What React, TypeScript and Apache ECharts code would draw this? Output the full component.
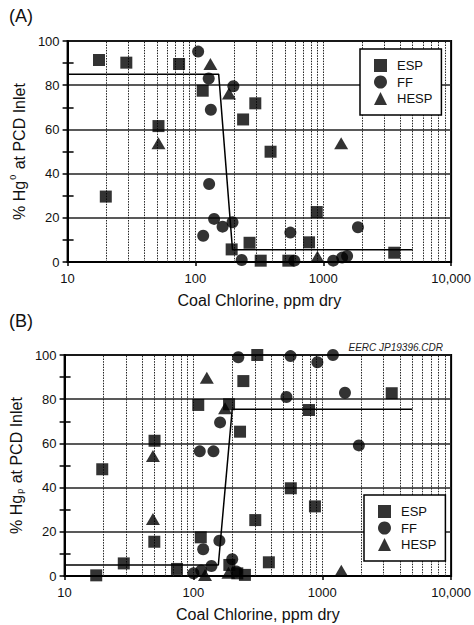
import React, { useEffect, useRef } from "react";
import * as echarts from "echarts";

// Panel A: % Hg0 at PCD inlet
const A_ESP: number[][] = [[17.6,91.4],[28.8,90.2],[74.5,89.6],[114,77.5],[51.4,61.5],[236,64.5],[294,71.8],[387,49.9],[19.9,29.6],[192,5.7],[265,8.7],[324,0.6],[533,0.6],[774,8.9],[889,22.6],[3590,4.2]];
const A_FF: number[][] = [[105,95.2],[127,83],[198,79.5],[132,68.9],[128,35.3],[140,19.5],[163,16],[195,18],[115,11.9],[230,0.9],[553,13.3],[594,0.6],[1196,0.6],[1405,2],[1536,2.7],[1867,15.7]];
const A_HESP: number[][] = [[131,89.6],[183,76.3],[51.4,53.7],[1380,53.7],[900,2.4]];
const A_FIT: number[][] = [[10,85],[152,85],[195,5.5],[5000,5.5]];

// Panel B: % Hgp at PCD inlet
const B_ESP: number[][] = [[313,100],[244,88.2],[109,77.4],[189,77.7],[789,75.1],[3460,82.7],[230,65.3],[49.9,61.2],[19.6,48.3],[570,39.7],[877,31.5],[302,25.3],[49.7,15.5],[114,17.5],[28.8,5.7],[17.6,0.3],[74.5,3.2],[385,6.2],[219,1.2],[251,0.5],[190,5]];
const B_FF: number[][] = [[223,99],[567,99.5],[1210,100],[916,96.7],[527,81],[1500,82.9],[161,69.5],[112,56.4],[143,56.4],[1923,59.1],[159,16],[119,12.1],[200,7.6],[138,4.5],[100,1.2],[115,2.5],[216,2]];
const B_HESP: number[][] = [[127,89.7],[176,75.9],[48.5,54.3],[48.5,25.8],[123,0.5],[187,1.5],[1405,2.4]];
const B_FIT: number[][] = [[10,5],[156,5],[200,75.5],[5000,75.5]];

const X_MIN = 10;
const X_MAX = 10000;
const Y_TICKS_INTERVAL = 20;
const LOG_GRID_VALUES: number[] = [20,30,40,50,60,70,80,90,100,200,300,400,500,600,700,800,900,1000,2000,3000,4000,5000,6000,7000,8000,9000];
const LEGEND_NAMES = ["ESP", "FF", "HESP"];

const FONT = "Liberation Sans, Arial, Helvetica, sans-serif";

export default function App() {
  const ref = useRef<HTMLDivElement>(null);
  useEffect(() => {
    if (!ref.current) return;
    const chart = echarts.init(ref.current, undefined, { renderer: "svg" });

    const grids = [
      { left: 64, top: 41, width: 388, height: 221 },
      { left: 64, top: 355, width: 388, height: 221 },
    ];
    const xAxes: any[] = [];
    const yAxes: any[] = [];
    const names = ["% Hg{sup|0} at PCD Inlet", "% Hg{sub|p} at PCD Inlet"];
    [0, 1].forEach((g) => {
      xAxes.push({
        type: "log",
        logBase: 10,
        gridIndex: g,
        min: X_MIN,
        max: X_MAX,
        name: "Coal Chlorine, ppm dry",
        nameLocation: "middle",
        nameGap: 30,
        nameTextStyle: { fontFamily: FONT, fontSize: 16, color: "#111" },
        axisLine: { show: true, lineStyle: { color: "#000", width: 2 } },
        axisTick: { show: true, length: 4, lineStyle: { color: "#000", width: 1.5 } },
        axisLabel: {
          fontFamily: FONT, fontSize: 13, color: "#111", margin: 10,
          formatter: (v: number) => (v === 10000 ? "10,000" : String(v)),
        },
        splitLine: { show: false },
      });
      yAxes.push({
        type: "value",
        gridIndex: g,
        min: 0,
        max: 100,
        interval: Y_TICKS_INTERVAL,
        name: names[g],
        nameLocation: "middle",
        nameGap: 36,
        nameTextStyle: {
          fontFamily: FONT, fontSize: 16, color: "#111",
          rich: {
            sup: { fontFamily: FONT, fontSize: 9, color: "#111", verticalAlign: "top", lineHeight: 22, padding: [0, 1, 0, 1] },
            sub: { fontFamily: FONT, fontSize: 9, color: "#111", verticalAlign: "bottom", lineHeight: 12, padding: [6, 1, 0, 1] },
          },
        },
        axisLine: { show: true, lineStyle: { color: "#000", width: 2 } },
        axisTick: { show: true, length: 5, lineStyle: { color: "#000", width: 1.5 } },
        minorTick: { show: true, splitNumber: 2, length: 5, lineStyle: { color: "#000", width: 1.5 } },
        axisLabel: { fontFamily: FONT, fontSize: 13, color: "#111", margin: 8 },
        splitLine: { show: true, lineStyle: { color: "#222", width: 1.5 } },
      });
      // duplicate axis for inner half of minor ticks
      yAxes.push({
        type: "value",
        gridIndex: g,
        min: 0,
        max: 100,
        interval: Y_TICKS_INTERVAL,
        position: "left",
        axisLine: { show: false },
        axisTick: { show: false, inside: true },
        minorTick: { show: true, splitNumber: 2, length: 6, lineStyle: { color: "#000", width: 1.5 } },
        axisLabel: { show: false },
        splitLine: { show: false },
      });
    });

    const gridMark = {
      silent: true,
      symbol: ["none", "none"],
      label: { show: false },
      lineStyle: { color: "#222", width: 1, type: [1.5, 1.2] },
      data: LOG_GRID_VALUES.map((v) => ({ xAxis: v })),
      animation: false,
    };

    const scatter = (name: string, data: number[][], g: number, symbol: string, size: any) => ({
      name,
      type: "scatter",
      xAxisIndex: g,
      yAxisIndex: g * 2,
      data,
      symbol,
      symbolSize: size,
      itemStyle: { color: "#000" },
      z: 5,
    });

    const fit = (data: number[][], g: number) => ({
      type: "line",
      xAxisIndex: g,
      yAxisIndex: g * 2,
      data,
      symbol: "none",
      lineStyle: { color: "#000", width: 1.5 },
      markLine: gridMark,
      z: 3,
    });

    const legend = (left: number, top: number) => ({
      left, top,
      orient: "vertical",
      data: LEGEND_NAMES,
      backgroundColor: "#fff",
      borderColor: "#000",
      borderWidth: 1.5,
      padding: [10, 9, 10, 14],
      itemGap: 3.5,
      itemWidth: 13,
      itemHeight: 13,
      selectedMode: false,
      textStyle: { fontFamily: FONT, fontSize: 13, color: "#111", padding: [0, 0, 0, 5] },
      z: 10,
    });

    chart.setOption({
      animation: false,
      backgroundColor: "#fff",
      grid: grids.map((g) => ({ ...g, show: true, borderColor: "#000", borderWidth: 2, backgroundColor: "transparent" })),
      xAxis: xAxes,
      yAxis: yAxes,
      legend: [legend(360, 49), legend(364, 495)],
      series: [
        fit(A_FIT, 0),
        scatter("ESP", A_ESP, 0, "rect", 12),
        scatter("FF", A_FF, 0, "circle", 12),
        scatter("HESP", A_HESP, 0, "triangle", [14, 12]),
        fit(B_FIT, 1),
        scatter("ESP", B_ESP, 1, "rect", 12),
        scatter("FF", B_FF, 1, "circle", 12),
        scatter("HESP", B_HESP, 1, "triangle", [14, 12]),
      ],
      graphic: [
        { type: "text", left: 9, top: 7, style: { text: "(A)", font: `18px ${FONT}`, fill: "#111" } },
        { type: "text", left: 9, top: 312, style: { text: "(B)", font: `18px ${FONT}`, fill: "#111" } },
        { type: "text", right: 31, top: 342, style: { text: "EERC JP19396.CDR", font: `italic 10px ${FONT}`, fill: "#222" } },
      ],
    });
    return () => chart.dispose();
  }, []);
  return <div ref={ref} style={{ position: "absolute", left: 0, top: 0, width: 474, height: 625 }} />;
}
